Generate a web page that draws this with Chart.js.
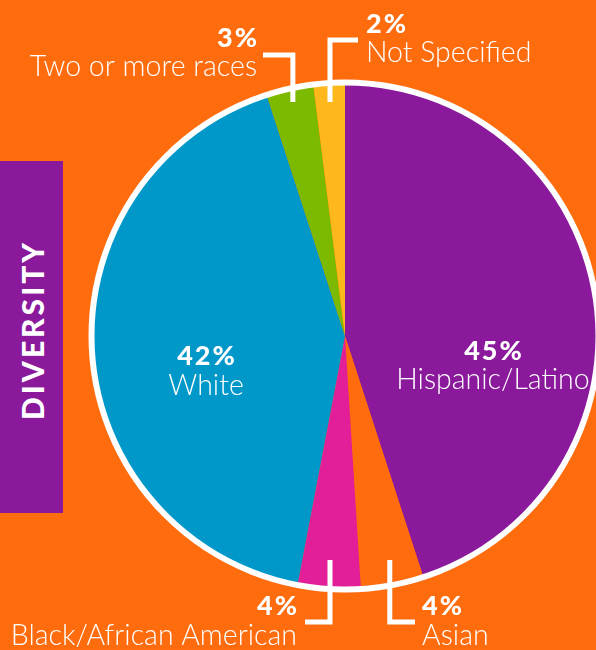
<!DOCTYPE html>
<html>
<head>
<meta charset="utf-8">
<script src="https://cdn.jsdelivr.net/npm/chart.js@4.4.1/dist/chart.umd.min.js"></script>
<style>
    html, body { margin: 0; padding: 0; background: #ff6c0e; width: 596px; height: 650px; overflow: hidden; }
    #wrap { position: relative; width: 596px; height: 650px; }
    #side { position: absolute; left: 0; top: 161px; width: 63px; height: 352px; background: #8a1a9b; }
    #side span {
        position: absolute; left: 50%; top: 48%;
        transform: translate(-50%, -50%) rotate(-90deg);
        color: #fff; font: 900 30px Lato; letter-spacing: 3px; white-space: nowrap;
    }
    canvas { position: absolute; left: 0; top: 0; }
</style>
</head>
<body>
<div id="wrap">
    <div id="side"><span>DIVERSITY</span></div>
    <canvas id="diversityChart" width="596" height="650"></canvas>
</div>
<script>
const categories = ['Hispanic/Latino', 'Asian', 'Black/African American', 'White', 'Two or more races', 'Not Specified'];
const shares = [45, 4, 4, 42, 3, 2];
const sliceColors = ['#8a1a9b', '#ff6c0e', '#e21f98', '#0097c9', '#7cba00', '#ffb81c'];

// label placement: inside labels sit in the slice, callouts get a bracket line
const labelLayout = [
    { type: 'inside', x: 493, pctY: 360, nameY: 389 },
    { type: 'callout', align: 'left', textX: 422, pctY: 615, nameY: 645, fromY: 560, elbowY: 622, toX: 415 },
    { type: 'callout', align: 'right', textX: 297, pctY: 615, nameY: 645, fromY: 560, elbowY: 622, toX: 305 },
    { type: 'inside', x: 206, pctY: 365, nameY: 395 },
    { type: 'callout', align: 'right', textX: 257, pctY: 47, nameY: 76, fromY: 102, elbowY: 55, toX: 263 },
    { type: 'callout', align: 'left', textX: 366, pctY: 33, nameY: 62, fromY: 102, elbowY: 40, toX: 358 }
];

const pctFont = '900 27px Lato';
const nameFont = '300 28.5px Lato';

const ringPlugin = {
    id: 'ring',
    afterDatasetsDraw(chart) {
        const arc = chart.getDatasetMeta(0).data[0];
        const ctx = chart.ctx;
        ctx.save();
        ctx.beginPath();
        ctx.arc(arc.x, arc.y, arc.outerRadius + 0.5, 0, Math.PI * 2);
        ctx.strokeStyle = '#ffffff';
        ctx.lineWidth = 6;
        ctx.stroke();
        ctx.restore();
    }
};

function drawPair(ctx, pct, name, x, pctY, nameY) {
    ctx.font = pctFont;
    ctx.letterSpacing = '2px';
    // letter spacing pads the end too, so nudge by it when anchoring right/center
    const shift = ctx.textAlign === 'right' ? 2 : (ctx.textAlign === 'center' ? 1 : 0);
    ctx.fillText(pct, x + shift, pctY);
    ctx.font = nameFont;
    ctx.letterSpacing = '0px';
    ctx.fillText(name, x, nameY);
}

const labelPlugin = {
    id: 'sliceLabels',
    afterDraw(chart) {
        const ctx = chart.ctx;
        const meta = chart.getDatasetMeta(0);
        ctx.save();
        ctx.fillStyle = '#ffffff';
        ctx.strokeStyle = '#ffffff';
        ctx.textBaseline = 'alphabetic';
        meta.data.forEach((arc, i) => {
            const lay = labelLayout[i];
            const pct = shares[i] + '%';
            if (lay.type === 'inside') {
                ctx.textAlign = 'center';
                drawPair(ctx, pct, categories[i], lay.x, lay.pctY, lay.nameY);
                return;
            }
            const mid = (arc.startAngle + arc.endAngle) / 2;
            const lx = arc.x + Math.cos(mid) * (arc.outerRadius - 14);
            ctx.lineWidth = 5;
            ctx.lineCap = 'butt';
            ctx.lineJoin = 'miter';
            ctx.beginPath();
            ctx.moveTo(lx, lay.fromY);
            ctx.lineTo(lx, lay.elbowY);
            ctx.lineTo(lay.toX, lay.elbowY);
            ctx.stroke();
            ctx.textAlign = lay.align;
            drawPair(ctx, pct, categories[i], lay.textX, lay.pctY, lay.nameY);
        });
        ctx.restore();
    }
};

document.addEventListener('DOMContentLoaded', () => {
    new Chart(document.getElementById('diversityChart'), {
        type: 'pie',
        data: {
            labels: categories,
            datasets: [{
                data: shares,
                backgroundColor: sliceColors,
                borderWidth: 0
            }]
        },
        options: {
            responsive: false,
            animation: false,
            radius: 253,
            layout: { padding: { left: 94, right: 0, top: 22, bottom: 0 } },
            plugins: {
                legend: { display: false },
                tooltip: { enabled: false }
            }
        },
        plugins: [ringPlugin, labelPlugin]
    });
});
</script>
</body>
</html>
